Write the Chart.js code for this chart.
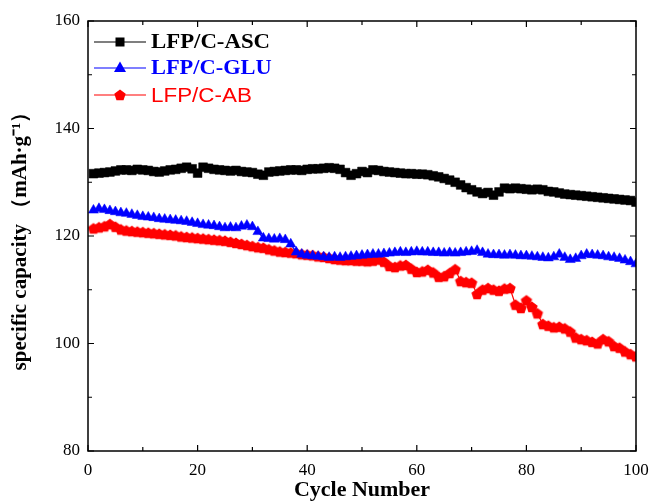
<!DOCTYPE html>
<html>
<head>
<meta charset="utf-8">
<script src="https://cdn.jsdelivr.net/npm/chart.js@4/dist/chart.umd.min.js"></script>
<style>
html,body{margin:0;padding:0;background:#fff;}
canvas{display:block;}
</style>
</head>
<body>
<canvas id="c" width="649" height="502"></canvas>
<script>
const cycles = Array.from({length:100},(_,i)=>i+1);
const asc = [
131.6,131.7,131.8,131.9,132.1,132.3,132.3,132.2,132.4,132.3,
132.2,132.0,131.9,132.1,132.3,132.4,132.6,132.8,132.5,131.7,
132.8,132.6,132.4,132.3,132.2,132.1,132.2,132.0,131.9,131.8,
131.5,131.3,131.9,132.0,132.1,132.2,132.3,132.3,132.2,132.4,
132.5,132.5,132.6,132.7,132.6,132.4,131.8,131.3,131.6,132.0,
131.8,132.3,132.2,132.0,131.9,131.8,131.7,131.6,131.6,131.5,
131.5,131.4,131.2,131.0,130.7,130.4,130.0,129.5,129.0,128.6,
128.2,127.9,128.1,127.6,128.2,128.9,128.8,128.9,128.8,128.7,
128.6,128.7,128.6,128.3,128.2,128.0,127.8,127.7,127.6,127.5,
127.4,127.3,127.2,127.1,127.0,126.9,126.8,126.7,126.6,126.3];
const glu = [
124.8,125.1,124.9,124.7,124.5,124.3,124.2,124.0,123.8,123.6,
123.5,123.4,123.2,123.1,123.0,122.9,122.8,122.7,122.5,122.3,
122.1,122.0,121.9,121.7,121.5,121.6,121.5,121.8,122.0,121.7,
120.8,119.6,119.5,119.4,119.5,119.3,118.5,117.0,116.6,116.4,
116.3,116.2,116.1,116.0,116.1,116.0,116.1,116.2,116.3,116.4,
116.5,116.6,116.6,116.7,116.8,116.9,117.0,116.9,117.0,117.1,
117.0,117.0,116.9,116.9,116.8,116.9,116.8,116.9,117.0,117.1,
117.3,116.9,116.6,116.5,116.5,116.4,116.5,116.4,116.3,116.3,
116.2,116.1,116.0,115.9,116.1,116.6,116.0,115.6,115.8,116.3,
116.6,116.5,116.4,116.3,116.1,116.0,115.8,115.5,115.2,114.8];
const ab = [
121.4,121.6,121.8,122.2,121.7,121.2,121.0,120.9,120.8,120.7,
120.6,120.5,120.4,120.3,120.2,120.1,119.9,119.8,119.7,119.6,
119.5,119.4,119.3,119.2,119.1,118.9,118.7,118.5,118.3,118.1,
117.9,117.8,117.5,117.3,117.1,117.0,116.9,116.8,116.6,116.5,
116.4,116.2,116.1,115.9,115.7,115.6,115.5,115.5,115.4,115.4,
115.3,115.4,115.6,115.2,114.4,114.2,114.5,114.6,113.9,113.3,
113.4,113.7,113.2,112.4,112.5,113.1,113.8,111.6,111.4,111.3,
109.2,110.0,110.3,110.0,109.8,110.2,110.3,107.2,106.6,108.0,
106.8,105.6,103.6,103.3,103.0,103.1,102.8,102.2,101.1,100.8,
100.6,100.3,100.0,100.8,100.4,99.5,99.2,98.5,98.0,97.6];
const seriesNames = ['LFP/C-ASC','LFP/C-GLU','LFP/C-AB'];
const xTicks = [0,20,40,60,80,100];
const yTicks = [80,100,120,140,160];

function pentagon(color, r){
  const c = document.createElement('canvas');
  const s = Math.ceil(r*2+2);
  c.width = s; c.height = s;
  const g = c.getContext('2d');
  g.fillStyle = color;
  g.beginPath();
  for(let i=0;i<5;i++){
    const a = -Math.PI/2 + i*2*Math.PI/5;
    const px = s/2 + r*Math.cos(a), py = s/2 + r*Math.sin(a)+0.5;
    if(i===0) g.moveTo(px,py); else g.lineTo(px,py);
  }
  g.closePath(); g.fill();
  return c;
}
const pent = pentagon('#ff0000', 6);

const serif = "'Liberation Serif','Times New Roman',serif";

const framePlugin = {
  id:'frame',
  afterDatasetsDraw(chart){
    const {ctx, chartArea:a, scales:{x,y}} = chart;
    ctx.save();
    ctx.strokeStyle = '#000';
    ctx.lineWidth = 1.5;
    ctx.strokeRect(a.left, a.top, a.right-a.left, a.bottom-a.top);
    ctx.lineWidth = 1.2;
    ctx.beginPath();
    for(let v=0; v<=100; v+=10){
      const px = x.getPixelForValue(v);
      const len = (v%20===0)?6:4;
      ctx.moveTo(px, a.bottom); ctx.lineTo(px, a.bottom-len);
      ctx.moveTo(px, a.top); ctx.lineTo(px, a.top+len);
    }
    for(let v=80; v<=160; v+=10){
      const py = y.getPixelForValue(v);
      const len = (v%20===0)?6:4;
      ctx.moveTo(a.left, py); ctx.lineTo(a.left+len, py);
      ctx.moveTo(a.right, py); ctx.lineTo(a.right-len, py);
    }
    ctx.stroke();
    ctx.restore();
  },
  afterDraw(chart){
    const ctx = chart.ctx;
    const rows = [42, 68, 95];
    const fonts = ["bold 20px "+serif, "bold 20px "+serif, "20px 'Liberation Sans',Arial,sans-serif"];
    const stretch = [1.14, 1.12, 1.12];
    ctx.save();
    chart.data.datasets.forEach((ds,i)=>{
      const yy = rows[i];
      ctx.strokeStyle = ds.borderColor;
      ctx.lineWidth = 1.2;
      ctx.beginPath(); ctx.moveTo(94, yy); ctx.lineTo(146, yy); ctx.stroke();
      ctx.fillStyle = ds.borderColor;
      if(i===0){ ctx.fillRect(115.5, yy-4.5, 9, 9); }
      else if(i===1){
        ctx.beginPath(); ctx.moveTo(120, yy-6.5); ctx.lineTo(126, yy+4); ctx.lineTo(114, yy+4); ctx.closePath(); ctx.fill();
      } else { ctx.drawImage(pent, 120-pent.width/2, yy-pent.height/2); }
      ctx.save();
      ctx.translate(151, yy+1);
      ctx.scale(stretch[i], 1);
      ctx.font = fonts[i];
      ctx.textBaseline = 'middle';
      ctx.textAlign = 'left';
      ctx.fillText(ds.label, 0, 0);
      ctx.restore();
    });
    ctx.restore();
  }
};

new Chart(document.getElementById('c'), {
  type:'line',
  data:{
    labels: cycles,
    datasets:[
      {label:seriesNames[0], data:cycles.map((c,i)=>({x:c,y:asc[i]})), borderColor:'#000000', backgroundColor:'#000000', pointStyle:'rect', pointRadius:6.2, borderWidth:1.2, pointBorderWidth:0.5},
      {label:seriesNames[1], data:cycles.map((c,i)=>({x:c,y:glu[i]})), borderColor:'#0000ff', backgroundColor:'#0000ff', pointStyle:'triangle', pointRadius:5.8, borderWidth:1.2, pointBorderWidth:0.5},
      {label:seriesNames[2], data:cycles.map((c,i)=>({x:c,y:ab[i]})), borderColor:'#ff0000', backgroundColor:'#ff0000', pointStyle:pent, pointRadius:6, borderWidth:1.2, pointBorderWidth:0}
    ]
  },
  options:{
    responsive:false, animation:false, devicePixelRatio:1,
    layout:{padding:{left:0,right:13,top:21,bottom:0}},
    plugins:{legend:{display:false}, tooltip:{enabled:false}},
    elements:{line:{tension:0}},
    scales:{
      x:{type:'linear', min:0, max:100,
        afterFit(s){ s.height = 51; s.paddingLeft = 0; s.paddingRight = 0; },
        afterBuildTicks(s){ s.ticks = xTicks.map(v=>({value:v})); },
        grid:{display:false, drawTicks:false}, border:{display:false},
        ticks:{color:'#000', padding:9, font:{family:serif, size:17}},
        title:{display:true, text:'Cycle Number', color:'#000', padding:{top:0,bottom:-2}, font:{family:serif, size:22, weight:'bold'}}
      },
      y:{type:'linear', min:80, max:160,
        afterFit(s){ s.width = 88; s.paddingTop = 0; s.paddingBottom = 0; },
        afterBuildTicks(s){ s.ticks = yTicks.map(v=>({value:v})); },
        grid:{display:false, drawTicks:false}, border:{display:false},
        ticks:{color:'#000', padding:8, font:{family:serif, size:17}},
        title:{display:true, text:'specific capacity （mAh·g⁻¹）', color:'#000', padding:{top:8,bottom:0}, font:{family:serif, size:21, weight:'bold'}}
      }
    }
  },
  plugins:[framePlugin]
});
</script>
</body>
</html>
